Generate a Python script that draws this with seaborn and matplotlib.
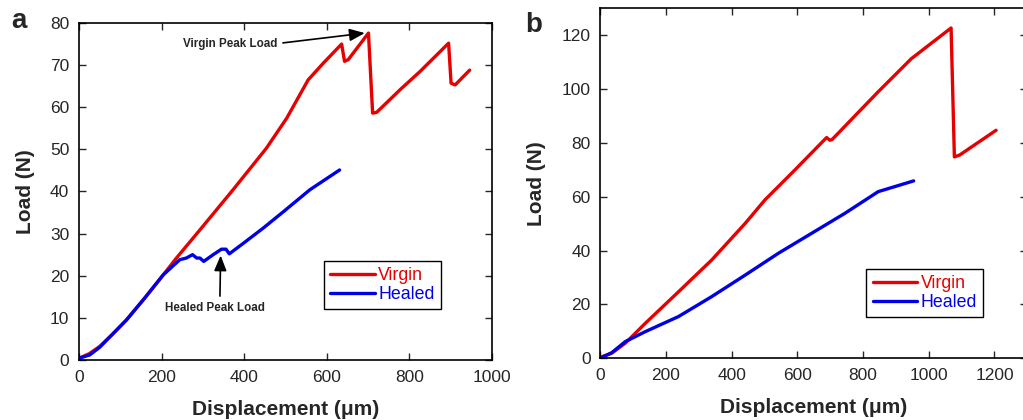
import pandas as pd
import seaborn as sns
import matplotlib.pyplot as plt

# panel a : load-displacement curves
a_virgin_x = [0, 25, 50, 80, 115, 160, 204, 236, 293, 373, 454, 503, 555, 592, 636, 643, 652, 701, 711, 721, 778, 826, 895, 901, 911, 946]
a_virgin_y = [0.4, 1.5, 3.2, 6.0, 9.5, 14.8, 20.2, 24.2, 30.9, 40.4, 50.3, 57.4, 66.5, 70.5, 75.0, 70.9, 71.3, 77.6, 58.6, 58.8, 64.2, 68.5, 75.2, 65.7, 65.3, 68.8]
a_healed_x = [0, 26, 50, 80, 115, 160, 204, 244, 260, 275, 285, 293, 302, 325, 345, 356, 364, 398, 446, 495, 559, 631]
a_healed_y = [0.4, 1.2, 3.0, 6.0, 9.5, 14.8, 20.2, 23.8, 24.2, 25.0, 24.2, 24.2, 23.4, 25.0, 26.3, 26.3, 25.2, 27.7, 31.3, 35.2, 40.4, 45.1]

# panel b
b_virgin_x = [0, 35, 76, 137, 238, 339, 441, 501, 592, 689, 699, 706, 846, 947, 1068, 1078, 1094, 1205]
b_virgin_y = [0.4, 1.9, 5.6, 13.0, 24.7, 36.5, 50.1, 58.8, 69.9, 82.0, 81.0, 81.3, 99.0, 111.3, 122.7, 74.8, 75.5, 84.7]
b_healed_x = [0, 35, 76, 137, 238, 339, 441, 542, 643, 744, 846, 954]
b_healed_y = [0.0, 2.1, 6.2, 9.9, 15.5, 22.9, 30.9, 39.0, 46.4, 53.8, 61.9, 65.9]

sns.set_style('ticks')
plt.rcParams['font.family'] = ['Liberation Sans', 'DejaVu Sans']

cores = {'Virgin': '#e60000', 'Healed': '#0000e6'}


def monta(vx, vy, hx, hy):
    d1 = pd.DataFrame({'x': vx, 'y': vy, 'serie': 'Virgin'})
    d2 = pd.DataFrame({'x': hx, 'y': hy, 'serie': 'Healed'})
    return pd.concat([d1, d2], ignore_index=True)


def desenha(ax, df, xlim, ylim, xt, yt, leg_pos):
    sns.lineplot(data=df, x='x', y='y', hue='serie', palette=cores, sort=False,
                 estimator=None, linewidth=2.4, ax=ax)
    ax.set_xlim(*xlim)
    ax.set_ylim(*ylim)
    ax.set_xticks(xt)
    ax.set_yticks(yt)
    ax.tick_params(direction='in', length=5, width=1, labelsize=12.5,
                   top=True, right=True, pad=7)
    for s in ax.spines.values():
        s.set_linewidth(1.2)
        s.set_color('black')
    ax.set_xlabel('Displacement (μm)', fontsize=15, fontweight='bold', labelpad=11)
    ax.set_ylabel('Load (N)', fontsize=15, fontweight='bold', labelpad=11)
    h, l = ax.get_legend_handles_labels()
    leg = ax.legend(h, l, loc='lower left', bbox_to_anchor=leg_pos, borderaxespad=0,
                    fontsize=12.8, frameon=True, fancybox=False, edgecolor='black',
                    framealpha=1, handlelength=2.5, handletextpad=0.2, borderpad=0.35,
                    labelspacing=0.1)
    leg.get_frame().set_linewidth(1)
    for t, nome in zip(leg.get_texts(), l):
        t.set_color(cores[nome])


fig = plt.figure(figsize=(10.23, 4.2), dpi=100)
ax1 = fig.add_axes([0.0772, 0.1429, 0.4037, 0.8024])
ax2 = fig.add_axes([0.5868, 0.1469, 0.4174, 0.8333])

desenha(ax1, monta(a_virgin_x, a_virgin_y, a_healed_x, a_healed_y),
        (0, 1000), (0, 80), range(0, 1001, 200), range(0, 81, 10), (0.593, 0.151))
desenha(ax2, monta(b_virgin_x, b_virgin_y, b_healed_x, b_healed_y),
        (0, 1300), (0, 130), range(0, 1201, 200), range(0, 121, 20), (0.623, 0.117))

ax1.annotate('Virgin Peak Load', xy=(692, 77.6), xytext=(365, 75.1),
             ha='center', va='center', fontsize=8.4, fontweight='bold',
             arrowprops=dict(arrowstyle='-|>,head_length=1.1,head_width=0.45',
                             color='black', lw=1.2, shrinkA=2, shrinkB=0,
                             relpos=(1.0, 0.5)))
ax1.annotate('Healed Peak Load', xy=(343, 24.8), xytext=(329, 12.3),
             ha='center', va='center', fontsize=8.4, fontweight='bold',
             arrowprops=dict(arrowstyle='-|>,head_length=1.1,head_width=0.45',
                             color='black', lw=1.2, shrinkA=2, shrinkB=0,
                             relpos=(0.55, 1.0)))

fig.text(0.011, 0.95, 'a', fontsize=20, fontweight='bold', ha='left', va='center')
fig.text(0.513, 0.94, 'b', fontsize=20, fontweight='bold', ha='left', va='center')

fig.savefig('out.png', dpi=100)
